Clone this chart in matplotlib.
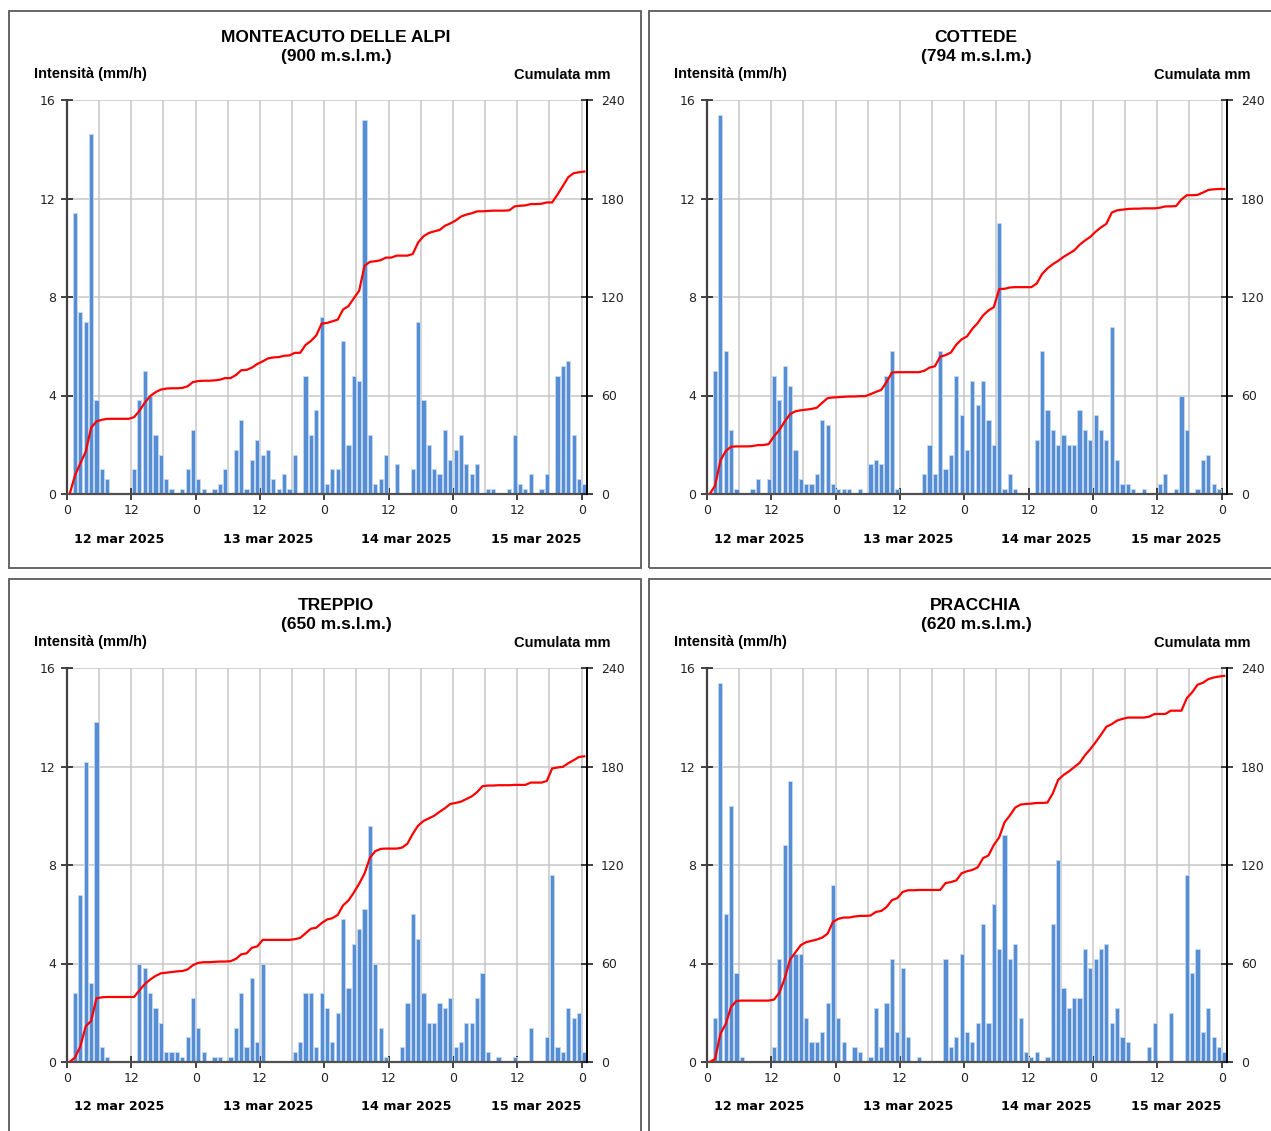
import numpy as np
import matplotlib
matplotlib.use("Agg")
import matplotlib.pyplot as plt
from matplotlib.patches import Rectangle

W, H = 1271, 1131

# hourly slots, 00:00 12 mar -> 00:00 16 mar
HOURS = list(range(97))
TICK_LABELS = ["0", "12", "0", "12", "0", "12", "0", "12", "0"]
DAYS = ["12 mar 2025", "13 mar 2025", "14 mar 2025", "15 mar 2025"]

# intensity (mm/h) read per hour
MONTEACUTO = [
    0, 11.4, 7.4, 7.0, 14.6, 3.8, 1.0, 0.6, 0, 0, 0, 0,
    1.0, 3.8, 5.0, 4.0, 2.4, 1.6, 0.6, 0.2, 0, 0.2, 1.0, 2.6,
    0.6, 0.2, 0, 0.2, 0.4, 1.0, 0, 1.8, 3.0, 0.2, 1.4, 2.2,
    1.6, 1.8, 0.6, 0.2, 0.8, 0.2, 1.6, 0, 4.8, 2.4, 3.4, 7.2,
    0.4, 1.0, 1.0, 6.2, 2.0, 4.8, 4.6, 15.2, 2.4, 0.4, 0.6, 1.6,
    0, 1.2, 0, 0, 1.0, 7.0, 3.8, 2.0, 1.0, 0.8, 2.6, 1.4,
    1.8, 2.4, 1.2, 0.8, 1.2, 0, 0.2, 0.2, 0, 0, 0.2, 2.4,
    0.4, 0.2, 0.8, 0, 0.2, 0.8, 0, 4.8, 5.2, 5.4, 2.4, 0.6,
    0.4,
]
COTTEDE = [
    0, 5.0, 15.4, 5.8, 2.6, 0.2, 0, 0, 0.2, 0.6, 0, 0.6,
    4.8, 3.8, 5.2, 4.4, 1.8, 0.6, 0.4, 0.4, 0.8, 3.0, 2.8, 0.4,
    0.2, 0.2, 0.2, 0, 0.2, 0, 1.2, 1.4, 1.2, 4.8, 5.8, 0.2,
    0, 0, 0, 0, 0.8, 2.0, 0.8, 5.8, 1.0, 1.6, 4.8, 3.2,
    1.8, 4.6, 3.6, 4.6, 3.0, 2.0, 11.0, 0.2, 0.8, 0.2, 0, 0,
    0, 2.2, 5.8, 3.4, 2.6, 2.0, 2.4, 2.0, 2.0, 3.4, 2.6, 2.2,
    3.2, 2.6, 2.2, 6.8, 1.4, 0.4, 0.4, 0.2, 0, 0.2, 0, 0,
    0.4, 0.8, 0, 0.2, 4.0, 2.6, 0, 0.2, 1.4, 1.6, 0.4, 0.2,
    0,
]
TREPPIO = [
    0, 2.8, 6.8, 12.2, 3.2, 13.8, 0.6, 0.2, 0, 0, 0, 0,
    0, 4.0, 3.8, 2.8, 2.2, 1.6, 0.4, 0.4, 0.4, 0.2, 1.0, 2.6,
    1.4, 0.4, 0, 0.2, 0.2, 0, 0.2, 1.4, 2.8, 0.6, 3.4, 0.8,
    4.0, 0, 0, 0, 0, 0, 0.4, 0.8, 2.8, 2.8, 0.6, 2.8,
    2.2, 0.8, 2.0, 5.8, 3.0, 4.8, 5.4, 6.2, 9.6, 4.0, 1.4, 0.2,
    0, 0, 0.6, 2.4, 6.0, 5.0, 2.8, 1.6, 1.6, 2.4, 2.2, 2.6,
    0.6, 0.8, 1.6, 1.6, 2.6, 3.6, 0.4, 0, 0.2, 0, 0, 0.2,
    0, 0, 1.4, 0, 0, 1.0, 7.6, 0.6, 0.4, 2.2, 1.8, 2.0,
    0.4,
]
PRACCHIA = [
    0, 1.8, 15.4, 6.0, 10.4, 3.6, 0.2, 0, 0, 0, 0, 0,
    0.6, 4.2, 8.8, 11.4, 4.4, 4.4, 1.8, 0.8, 0.8, 1.2, 2.4, 7.2,
    1.8, 0.8, 0, 0.6, 0.4, 0, 0.2, 2.2, 0.6, 2.4, 4.2, 1.2,
    3.8, 1.0, 0, 0.2, 0, 0, 0, 0, 4.2, 0.6, 1.0, 4.4,
    1.2, 0.8, 1.6, 5.6, 1.6, 6.4, 4.6, 9.2, 4.2, 4.8, 1.8, 0.4,
    0.2, 0.4, 0, 0.2, 5.6, 8.2, 3.0, 2.2, 2.6, 2.6, 4.6, 3.8,
    4.2, 4.6, 4.8, 1.6, 2.2, 1.0, 0.8, 0, 0, 0, 0.6, 1.6,
    0, 0, 2.0, 0, 0, 7.6, 3.6, 4.6, 1.2, 2.2, 1.0, 0.6,
    0.4,
]

STATIONS = ["MONTEACUTO DELLE ALPI", "COTTEDE", "TREPPIO", "PRACCHIA"]
ALTITUDES = [900, 794, 650, 620]
SERIES = [MONTEACUTO, COTTEDE, TREPPIO, PRACCHIA]

BAR_COLOR = "#558ed5"
GRID = "#c8c8c8"
TITLE_FONT = "Liberation Sans"
TICK_FONT = "DejaVu Sans"

# panel offsets in pixels (top-left)
OFFSETS = [(0, 0), (640, 0), (0, 568), (640, 568)]
DAY_X = [119, 268, 406, 536]


def fx(x):
    return x / W


def fy(y):
    return 1 - y / H


def panel(fig, ox, oy, name, alt, values):
    fig.patches.append(Rectangle((fx(ox + 9), fy(oy + 568)), 632 / W, 557 / H,
                                 transform=fig.transFigure, fill=False,
                                 edgecolor="#5a5a5a", linewidth=1.3))

    ax = fig.add_axes([fx(ox + 67), fy(oy + 494), 520 / W, 394 / H])
    x = np.array(HOURS) + 0.5
    vals = np.array(values)
    ax.bar(x, vals, width=0.78, color=BAR_COLOR, edgecolor="#c6d9f1",
           linewidth=0.6, zorder=2)
    ax.set_xlim(0, 97)
    ax.set_ylim(0, 16)
    ax.set_yticks([0, 4, 8, 12, 16])
    ax.set_xticks(range(0, 97, 12))
    ax.set_xticklabels(TICK_LABELS)
    ax.set_xticks(range(0, 97, 6), minor=True)
    ax.set_axisbelow(True)
    ax.grid(True, which="both", axis="x", color=GRID, linewidth=1.1)
    ax.grid(True, which="major", axis="y", color=GRID, linewidth=1.1)
    ax.tick_params(axis="x", which="minor", length=0)
    ax.tick_params(axis="both", which="major", direction="inout", length=8,
                   width=1.2, colors="#222222", pad=4, labelsize=9)
    ax.tick_params(axis="x", which="major", pad=3)
    for lab in ax.get_xticklabels() + ax.get_yticklabels():
        lab.set_fontfamily(TICK_FONT)
    ax.spines["top"].set_visible(False)
    ax.spines["right"].set_visible(False)
    ax.spines["left"].set_color("#404040")
    ax.spines["left"].set_linewidth(1.6)
    ax.spines["bottom"].set_color("#505050")
    ax.spines["bottom"].set_linewidth(1.6)

    # Cumulata = running total of the hourly intensity
    ax2 = ax.twinx()
    ax2.plot(x, np.cumsum(vals), color="red", linewidth=1.6, zorder=3)
    ax2.set_ylim(0, 240)
    ax2.set_yticks([0, 60, 120, 180, 240])
    ax2.tick_params(axis="y", direction="inout", length=8, width=1.2,
                    colors="#222222", pad=6, labelsize=9)
    for lab in ax2.get_yticklabels():
        lab.set_fontfamily(TICK_FONT)
    for s in ["top", "left", "bottom"]:
        ax2.spines[s].set_visible(False)
    ax2.spines["right"].set_color("black")
    ax2.spines["right"].set_linewidth(1.4)

    fig.text(fx(ox + 336), fy(oy + 38), name, ha="center", va="center",
             fontsize=12.5, fontweight="bold", family=TITLE_FONT)
    fig.text(fx(ox + 336), fy(oy + 56), f"({alt} m.s.l.m.)", ha="center",
             va="center", fontsize=12.5, fontweight="bold", family=TITLE_FONT)
    fig.text(fx(ox + 34), fy(oy + 74), "Intensità (mm/h)", ha="left",
             va="center", fontsize=10.5, fontweight="bold", family=TITLE_FONT)
    fig.text(fx(ox + 610), fy(oy + 75), "Cumulata mm", ha="right",
             va="center", fontsize=10.5, fontweight="bold", family=TITLE_FONT)
    for d, dx in zip(DAYS, DAY_X):
        fig.text(fx(ox + dx), fy(oy + 539), d, ha="center", va="center",
                 fontsize=9.2, fontweight="bold", family=TICK_FONT)


fig = plt.figure(figsize=(W / 100, H / 100), dpi=100)
fig.patch.set_facecolor("white")
for (ox, oy), name, alt, vals in zip(OFFSETS, STATIONS, ALTITUDES, SERIES):
    panel(fig, ox, oy, name, alt, vals)

fig.savefig("out.png", dpi=100)
